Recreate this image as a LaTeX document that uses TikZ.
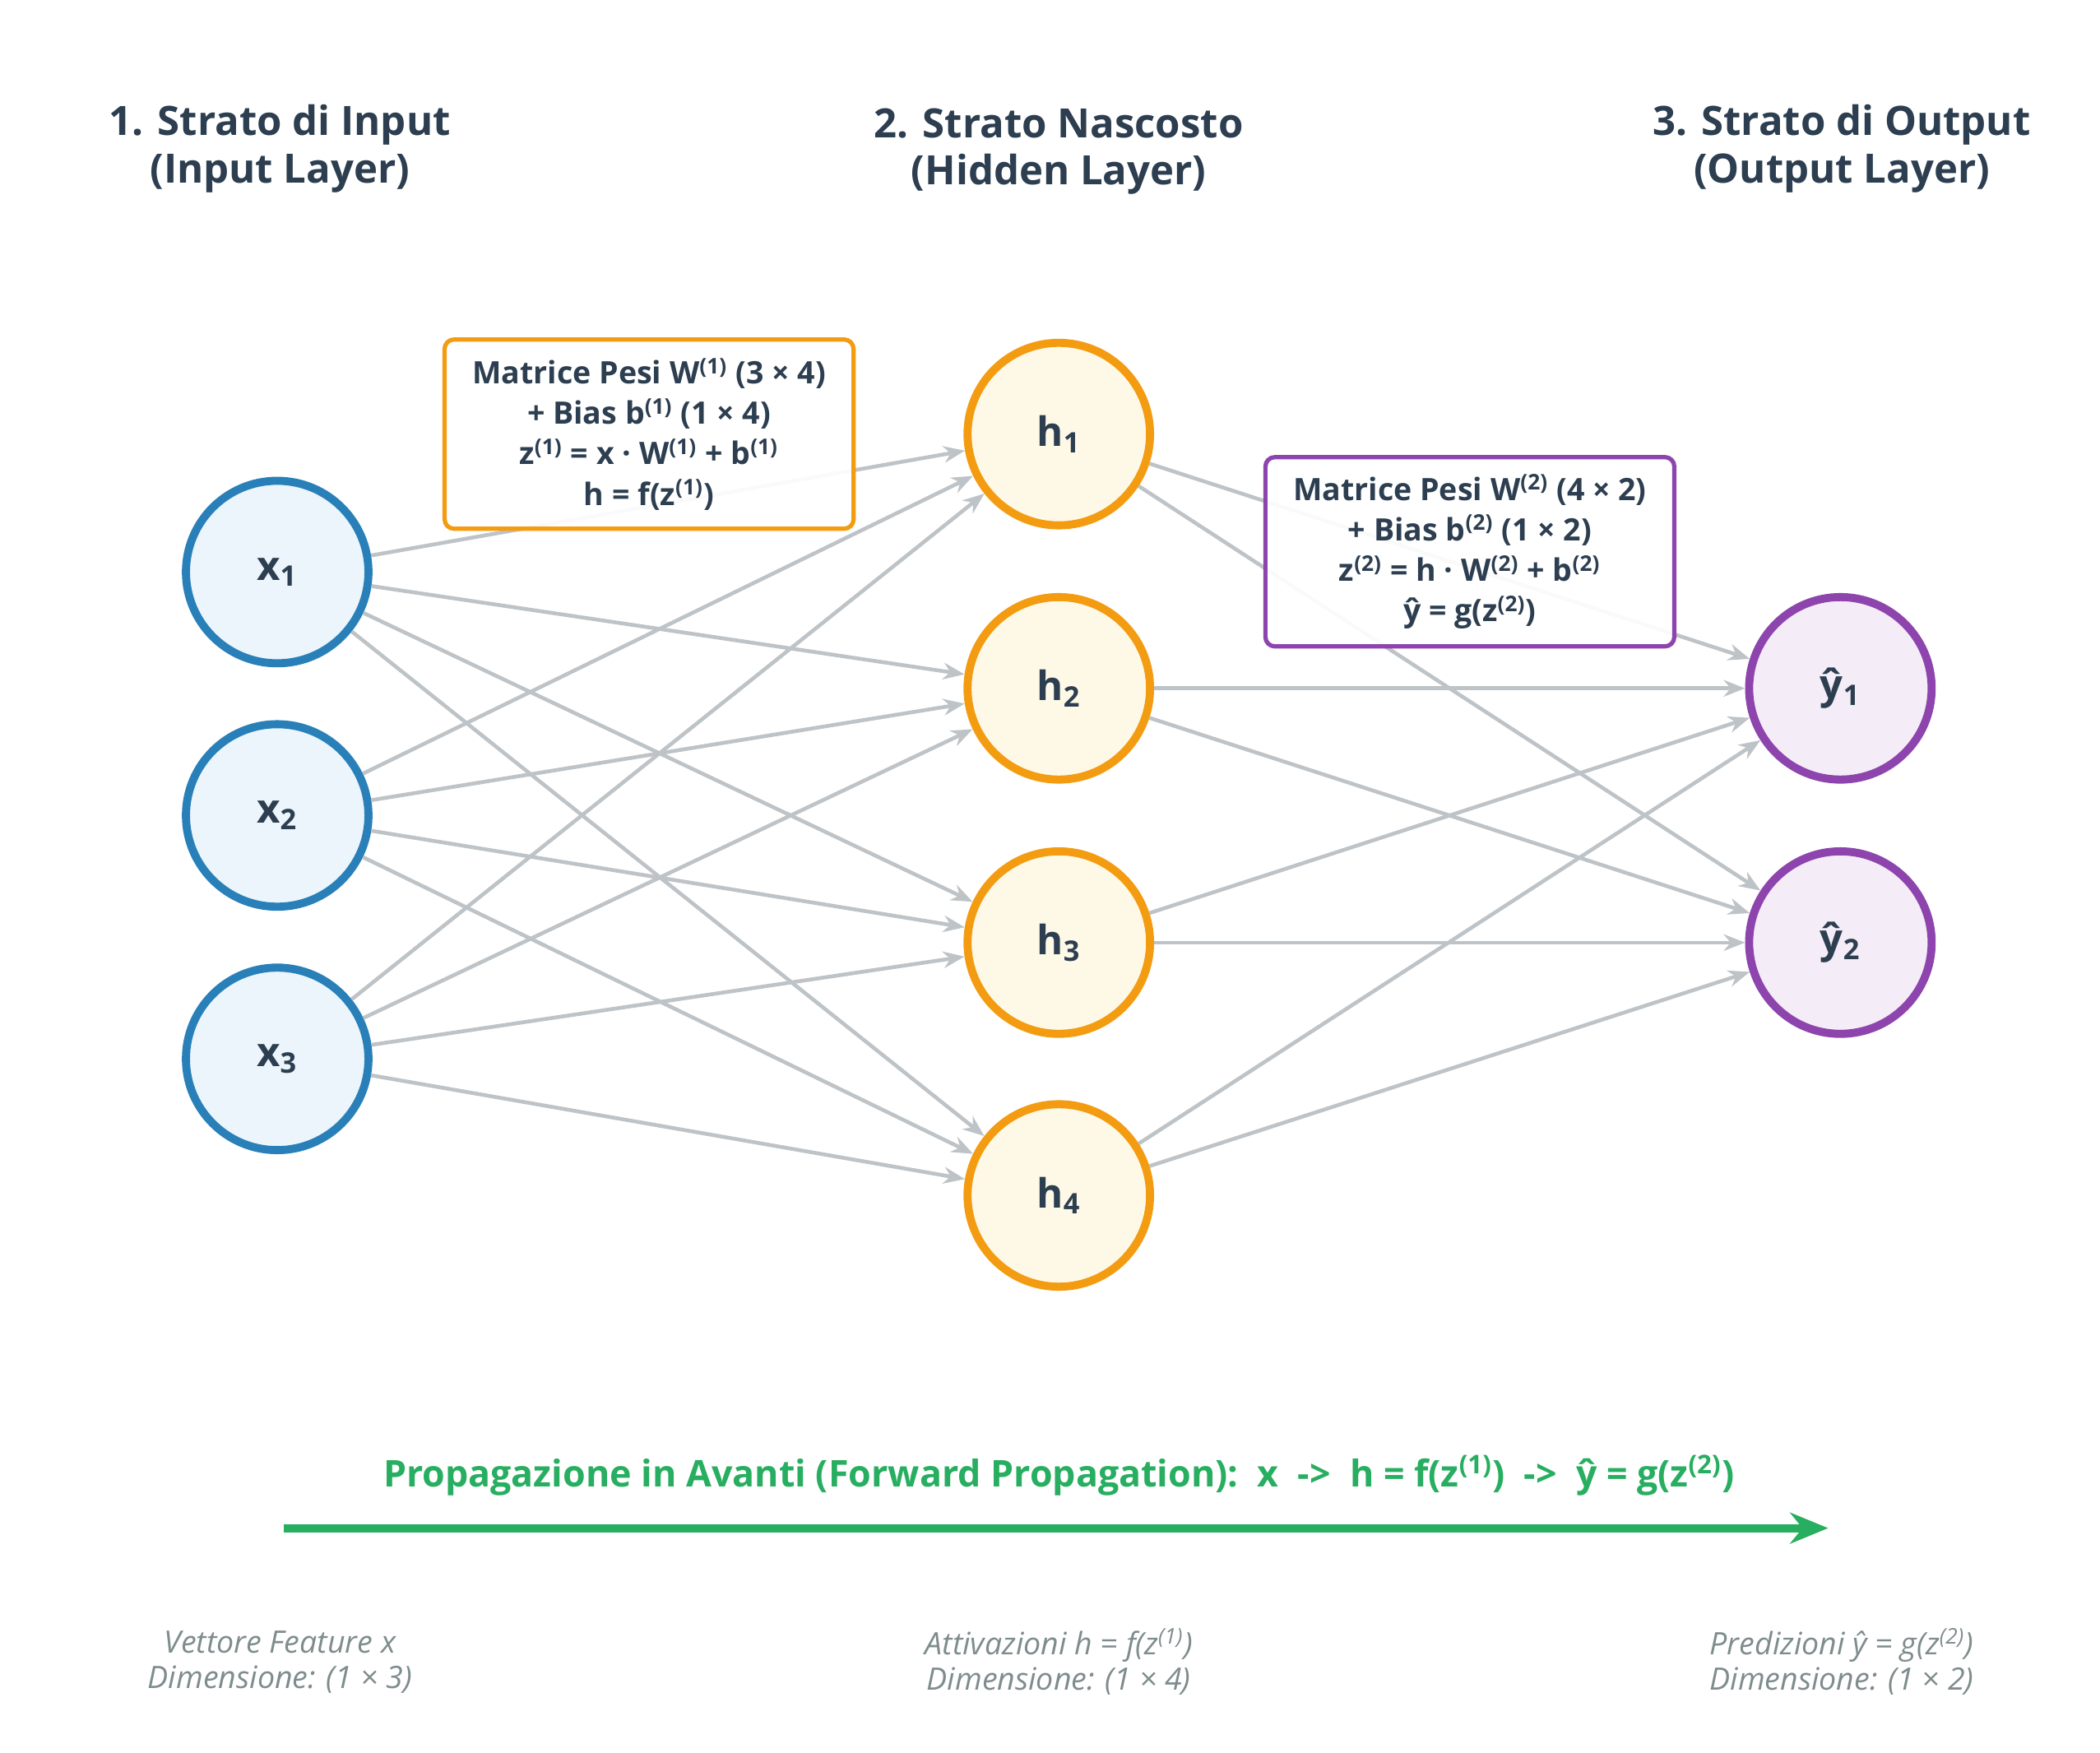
\documentclass[tikz,border=0pt]{standalone}
\usepackage{fontspec}
\setmainfont{Open Sans}
\usetikzlibrary{positioning, arrows.meta}
\definecolor{inkdark}{HTML}{2C3E50}
\definecolor{inblue}{HTML}{2980B9}
\definecolor{inbluefill}{HTML}{EBF5FB}
\definecolor{hidorange}{HTML}{F39C12}
\definecolor{hidfill}{HTML}{FEF9E7}
\definecolor{outpurple}{HTML}{8E44AD}
\definecolor{outfill}{HTML}{F4ECF7}
\definecolor{edgegray}{HTML}{BDC3C7}
\definecolor{fwdgreen}{HTML}{27AE60}
\definecolor{capgray}{HTML}{7F8C8D}

\begin{document}
\begin{tikzpicture}[x=0.02cm, y=-0.02cm,
    neuron/.style={circle, line width=3.4pt, minimum size=2.7cm, inner sep=0pt, text=inkdark, font=\bfseries\fontsize{17}{20}\selectfont},
    inneuron/.style={neuron, draw=inblue, fill=inbluefill},
    hidneuron/.style={neuron, draw=hidorange, fill=hidfill},
    outneuron/.style={neuron, draw=outpurple, fill=outfill},
    conn/.style={draw=edgegray, line width=1.6pt, -{Stealth[length=9pt, width=7pt]}},
    weightbox/.style={draw, rounded corners=4pt, line width=1.8pt, fill=white, fill opacity=0.93, text opacity=1, align=center, text=inkdark, font=\bfseries\fontsize{13}{17}\selectfont, minimum width=6.05cm, minimum height=2.8cm},
    header/.style={align=center, text=inkdark, font=\bfseries\fontsize{17}{20}\selectfont},
    caption/.style={align=center, text=capgray, font=\itshape\fontsize{13}{15}\selectfont}]
        \useasboundingbox (0,0) rectangle (1553,1296);

        % Headers
        \node[header] (hin) at (207,110) {1. Strato di Input\\(Input Layer)};
        \node[header] (hhid) at (783,112) {2. Strato Nascosto\\(Hidden Layer)};
        \node[header] (hout) at (1362,110) {3. Strato di Output\\(Output Layer)};

        % Neurons
        \node[inneuron] (x1) at (205,423) {x\textsubscript{1}};
        \node[inneuron] (x2) at (205,603) {x\textsubscript{2}};
        \node[inneuron] (x3) at (205,783) {x\textsubscript{3}};
        \node[hidneuron] (h1) at (783,321) {h\textsubscript{1}};
        \node[hidneuron] (h2) at (783,509) {h\textsubscript{2}};
        \node[hidneuron] (h3) at (783,697) {h\textsubscript{3}};
        \node[hidneuron] (h4) at (783,884) {h\textsubscript{4}};
        \node[outneuron] (y1) at (1361,509) {ŷ\textsubscript{1}};
        \node[outneuron] (y2) at (1361,697) {ŷ\textsubscript{2}};

        % Edges
        \foreach \i in {x1,x2,x3} {
                \foreach \j in {h1,h2,h3,h4} {
                        \draw[conn] (\i) -- (\j);
                }
        }
        \foreach \i in {h1,h2,h3,h4} {
                \foreach \j in {y1,y2} {
                        \draw[conn] (\i) -- (\j);
                }
        }

        % Weight boxes
        \node[weightbox, draw=hidorange] (w1) at (480,321) {Matrice Pesi W\textsuperscript{(1)} (3 × 4)\\+ Bias b\textsuperscript{(1)} (1 × 4)\\z\textsuperscript{(1)} = x · W\textsuperscript{(1)} + b\textsuperscript{(1)}\\h = f(z\textsuperscript{(1)})};
        \node[weightbox, draw=outpurple] (w2) at (1087,408) {Matrice Pesi W\textsuperscript{(2)} (4 × 2)\\+ Bias b\textsuperscript{(2)} (1 × 2)\\z\textsuperscript{(2)} = h · W\textsuperscript{(2)} + b\textsuperscript{(2)}\\ŷ = g(z\textsuperscript{(2)})};

        % Forward propagation
        \node[text=fwdgreen, font=\bfseries\fontsize{15.5}{19}\selectfont] (fwd) at (783,1091) {Propagazione in Avanti (Forward Propagation):\ \ x\ \ ->\ \ h = f(z\textsuperscript{(1)})\ \ ->\ \ ŷ = g(z\textsuperscript{(2)})};
        \coordinate (fs) at (210,1130);
        \coordinate (fe) at (1352,1130);
        \draw[draw=fwdgreen, line width=3.5pt, -{Stealth[length=16pt, width=13pt]}] (fs) -- (fe);

        % Captions
        \node[caption] (cin) at (207,1229) {Vettore Feature x\\Dimensione: (1 × 3)};
        \node[caption] (chid) at (783,1229) {Attivazioni h = f(z\textsuperscript{(1)})\\Dimensione: (1 × 4)};
        \node[caption] (cout) at (1362,1229) {Predizioni ŷ = g(z\textsuperscript{(2)})\\Dimensione: (1 × 2)};
\end{tikzpicture}
\end{document}
